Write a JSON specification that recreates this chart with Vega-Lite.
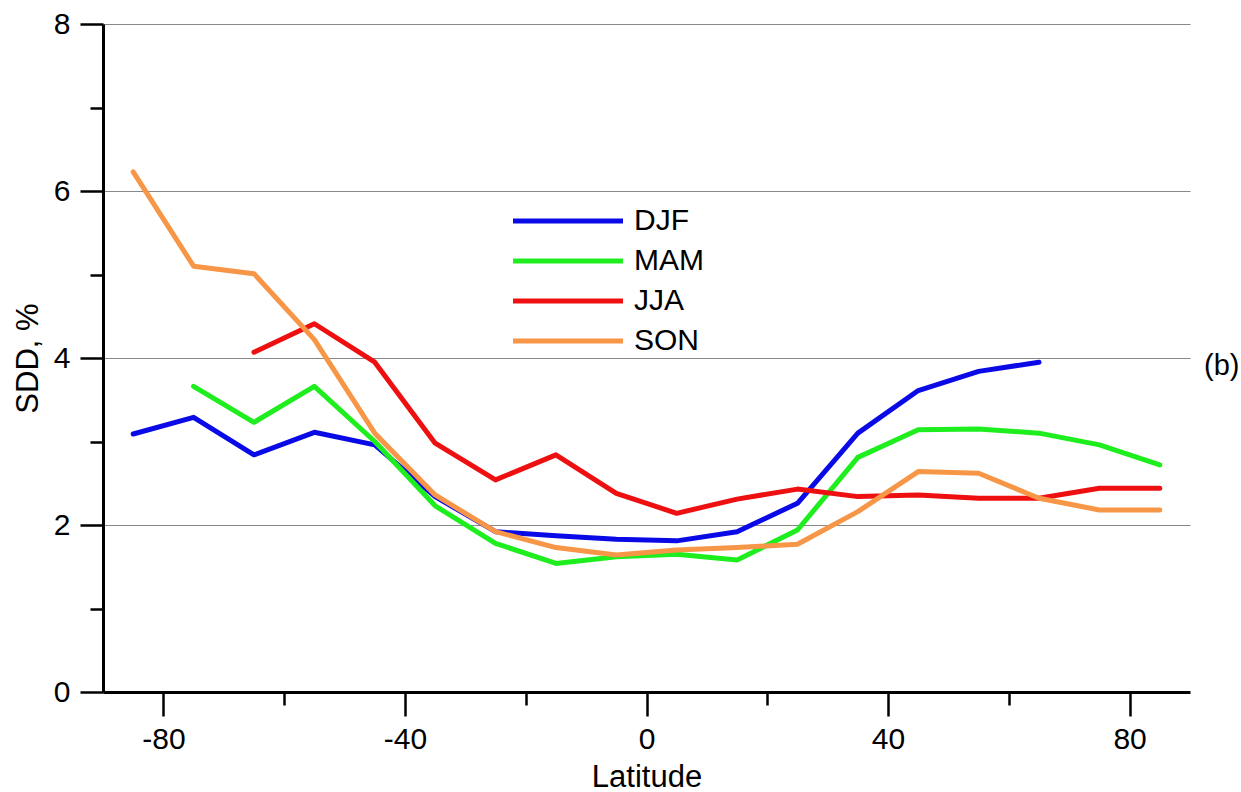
{
  "$schema": "https://vega.github.io/schema/vega-lite/v6.json",
  "width": 1087,
  "height": 668,
  "autosize": "none",
  "padding": {"left": 103, "top": 24, "right": 51, "bottom": 100},
  "background": "white",
  "config": {
    "view": {"stroke": null},
    "font": "Liberation Sans"
  },
  "layer": [
    {
      "data": {
        "values": [
          {"lat": -85, "s": "DJF", "v": 3.09}, {"lat": -75, "s": "DJF", "v": 3.29}, {"lat": -65, "s": "DJF", "v": 2.84}, {"lat": -55, "s": "DJF", "v": 3.11}, {"lat": -45, "s": "DJF", "v": 2.96}, {"lat": -35, "s": "DJF", "v": 2.34}, {"lat": -25, "s": "DJF", "v": 1.92}, {"lat": -15, "s": "DJF", "v": 1.87}, {"lat": -5, "s": "DJF", "v": 1.83}, {"lat": 5, "s": "DJF", "v": 1.81}, {"lat": 15, "s": "DJF", "v": 1.92}, {"lat": 25, "s": "DJF", "v": 2.26}, {"lat": 35, "s": "DJF", "v": 3.1}, {"lat": 45, "s": "DJF", "v": 3.61}, {"lat": 55, "s": "DJF", "v": 3.84}, {"lat": 65, "s": "DJF", "v": 3.95},
          {"lat": -75, "s": "MAM", "v": 3.66}, {"lat": -65, "s": "MAM", "v": 3.23}, {"lat": -55, "s": "MAM", "v": 3.66}, {"lat": -45, "s": "MAM", "v": 3.0}, {"lat": -35, "s": "MAM", "v": 2.23}, {"lat": -25, "s": "MAM", "v": 1.78}, {"lat": -15, "s": "MAM", "v": 1.54}, {"lat": -5, "s": "MAM", "v": 1.62}, {"lat": 5, "s": "MAM", "v": 1.65}, {"lat": 15, "s": "MAM", "v": 1.58}, {"lat": 25, "s": "MAM", "v": 1.94}, {"lat": 35, "s": "MAM", "v": 2.81}, {"lat": 45, "s": "MAM", "v": 3.14}, {"lat": 55, "s": "MAM", "v": 3.15}, {"lat": 65, "s": "MAM", "v": 3.1}, {"lat": 75, "s": "MAM", "v": 2.96}, {"lat": 85, "s": "MAM", "v": 2.72},
          {"lat": -65, "s": "JJA", "v": 4.07}, {"lat": -55, "s": "JJA", "v": 4.41}, {"lat": -45, "s": "JJA", "v": 3.95}, {"lat": -35, "s": "JJA", "v": 2.98}, {"lat": -25, "s": "JJA", "v": 2.54}, {"lat": -15, "s": "JJA", "v": 2.84}, {"lat": -5, "s": "JJA", "v": 2.38}, {"lat": 5, "s": "JJA", "v": 2.14}, {"lat": 15, "s": "JJA", "v": 2.31}, {"lat": 25, "s": "JJA", "v": 2.43}, {"lat": 35, "s": "JJA", "v": 2.34}, {"lat": 45, "s": "JJA", "v": 2.36}, {"lat": 55, "s": "JJA", "v": 2.32}, {"lat": 65, "s": "JJA", "v": 2.32}, {"lat": 75, "s": "JJA", "v": 2.44}, {"lat": 85, "s": "JJA", "v": 2.44},
          {"lat": -85, "s": "SON", "v": 6.23}, {"lat": -75, "s": "SON", "v": 5.1}, {"lat": -65, "s": "SON", "v": 5.01}, {"lat": -55, "s": "SON", "v": 4.22}, {"lat": -45, "s": "SON", "v": 3.1}, {"lat": -35, "s": "SON", "v": 2.36}, {"lat": -25, "s": "SON", "v": 1.92}, {"lat": -15, "s": "SON", "v": 1.73}, {"lat": -5, "s": "SON", "v": 1.64}, {"lat": 5, "s": "SON", "v": 1.7}, {"lat": 15, "s": "SON", "v": 1.73}, {"lat": 25, "s": "SON", "v": 1.77}, {"lat": 35, "s": "SON", "v": 2.16}, {"lat": 45, "s": "SON", "v": 2.64}, {"lat": 55, "s": "SON", "v": 2.62}, {"lat": 65, "s": "SON", "v": 2.32}, {"lat": 75, "s": "SON", "v": 2.18}, {"lat": 85, "s": "SON", "v": 2.18}
        ]
      },
      "mark": {"type": "line", "strokeWidth": 5, "strokeCap": "round", "strokeJoin": "round", "clip": false},
      "encoding": {
        "x": {
          "field": "lat", "type": "quantitative",
          "scale": {"domain": [-90, 90], "nice": false, "zero": false},
          "axis": {
            "title": "Latitude",
            "values": [-80, -60, -40, -20, 0, 20, 40, 60, 80],
            "format": "d",
            "labelExpr": "datum.value % 40 === 0 ? replace(datum.label, '\u2212', '-') : ''",
            "tickSize": {"condition": {"test": "datum.value % 40 === 0", "value": 24}, "value": 13},
            "tickWidth": 2.5, "tickColor": "black",
            "domainColor": "black", "domainWidth": 3,
            "labelFontSize": 30, "labelColor": "black", "labelPadding": 8,
            "titleFontSize": 31, "titleFontWeight": "normal", "titleColor": "black", "titlePadding": 8,
            "grid": false
          }
        },
        "y": {
          "field": "v", "type": "quantitative",
          "scale": {"domain": [0, 8], "nice": false},
          "axis": {
            "title": "SDD, %",
            "values": [0, 1, 2, 3, 4, 5, 6, 7, 8],
            "format": "d",
            "labelExpr": "datum.value % 2 === 0 ? datum.label : ''",
            "tickSize": {"condition": {"test": "datum.value % 2 === 0", "value": 23}, "value": 13},
            "tickWidth": 2.5, "tickColor": "black",
            "domainColor": "black", "domainWidth": 3,
            "labelFontSize": 30, "labelColor": "black", "labelPadding": 10,
            "titleFontSize": 31, "titleFontWeight": "normal", "titleColor": "black", "titlePadding": 9,
            "grid": true, "gridColor": "#888888", "gridWidth": 1.2,
            "gridOpacity": {"condition": {"test": "datum.value % 2 === 0 && datum.value > 0", "value": 1}, "value": 0}
          }
        },
        "color": {
          "field": "s", "type": "nominal",
          "scale": {"domain": ["DJF", "MAM", "JJA", "SON"], "range": ["#0a0ae6", "#1eee1e", "#ee1010", "#f79646"]},
          "legend": {
            "title": null,
            "orient": "none",
            "legendX": 450,
            "legendY": 182,
            "symbolType": "M-5,0H5",
            "symbolSize": 484,
            "symbolStrokeWidth": 5,
            "labelFontSize": 30,
            "labelColor": "black",
            "labelOffset": 51,
            "rowPadding": 10
          }
        }
      }
    },
    {
      "data": {"values": [{"t": "(b)"}]},
      "mark": {"type": "text", "fontSize": 29, "align": "left", "baseline": "middle", "dx": 14, "clip": false, "color": "black"},
      "encoding": {
        "x": {"datum": 90},
        "y": {"datum": 3.9},
        "text": {"field": "t"}
      }
    }
  ]
}
